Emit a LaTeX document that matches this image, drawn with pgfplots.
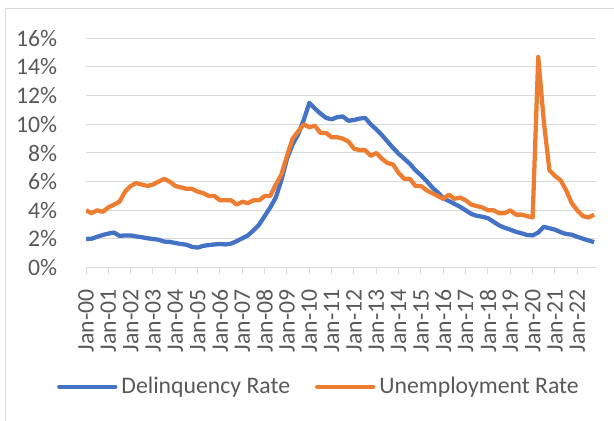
\documentclass[border=0pt]{standalone}
\usepackage{pgfplots}
\pgfplotsset{compat=1.18}
\usepackage{pgfplotstable}
\usepackage{fontspec}
\setmainfont{Carlito}
\definecolor{dblue}{HTML}{4472C4}
\definecolor{dorange}{HTML}{ED7D31}
\definecolor{txtgray}{HTML}{595959}
\definecolor{gridgray}{HTML}{D9D9D9}

\pgfplotstableread{
q D U
0 2.00 4.0
1 2.02 3.8
2 2.15 4.0
3 2.28 3.9
4 2.38 4.2
5 2.45 4.4
6 2.22 4.6
7 2.25 5.3
8 2.25 5.7
9 2.18 5.9
10 2.12 5.8
11 2.05 5.7
12 2.00 5.8
13 1.95 6.0
14 1.82 6.2
15 1.80 6.0
16 1.72 5.7
17 1.65 5.6
18 1.60 5.5
19 1.45 5.5
20 1.40 5.3
21 1.52 5.2
22 1.58 5.0
23 1.62 5.0
24 1.65 4.7
25 1.62 4.7
26 1.68 4.7
27 1.85 4.4
28 2.05 4.6
29 2.25 4.5
30 2.60 4.7
31 3.00 4.7
32 3.60 5.0
33 4.20 5.0
34 4.90 5.8
35 6.10 6.5
36 7.60 7.8
37 8.60 9.0
38 9.30 9.5
39 10.30 10.0
40 11.50 9.8
41 11.10 9.9
42 10.75 9.4
43 10.45 9.4
44 10.35 9.1
45 10.50 9.1
46 10.55 9.0
47 10.25 8.8
48 10.30 8.3
49 10.40 8.2
50 10.45 8.2
51 10.00 7.8
52 9.65 8.0
53 9.25 7.6
54 8.80 7.3
55 8.35 7.2
56 7.95 6.6
57 7.60 6.2
58 7.25 6.2
59 6.80 5.7
60 6.45 5.7
61 6.05 5.4
62 5.60 5.2
63 5.25 5.0
64 4.85 4.8
65 4.65 5.1
66 4.45 4.8
67 4.25 4.9
68 4.00 4.7
69 3.75 4.4
70 3.62 4.3
71 3.55 4.2
72 3.45 4.0
73 3.20 4.0
74 2.95 3.8
75 2.78 3.8
76 2.65 4.0
77 2.50 3.7
78 2.40 3.7
79 2.28 3.6
80 2.25 3.5
81 2.45 14.7
82 2.85 10.2
83 2.75 6.8
84 2.65 6.4
85 2.48 6.1
86 2.35 5.4
87 2.30 4.5
88 2.15 4.0
89 2.02 3.6
90 1.90 3.5
91 1.78 3.7
}\datatable

\begin{document}
\begin{tikzpicture}
\path[use as bounding box] (0,0) rectangle (460.5pt,315.75pt);
\draw[gridgray, line width=0.75pt] (3.75pt,0pt) -- (3.75pt,309pt) -- (460.5pt,309pt);
\begin{axis}[
  at={(64.5pt,115pt)}, anchor=south west,
  scale only axis, width=382.3pt, height=172pt,
  xmin=0, xmax=91.3, ymin=0, ymax=16,
  axis lines*=left,
  x axis line style={gridgray, line width=0.75pt},
  y axis line style={draw=none},
  ymajorgrids, grid style={gridgray, line width=0.75pt},
  xtick={0,4,...,88},
  xticklabels={Jan-00,Jan-01,Jan-02,Jan-03,Jan-04,Jan-05,Jan-06,Jan-07,Jan-08,Jan-09,Jan-10,Jan-11,Jan-12,Jan-13,Jan-14,Jan-15,Jan-16,Jan-17,Jan-18,Jan-19,Jan-20,Jan-21,Jan-22},
  ytick={0,2,...,16},
  yticklabels={0\%,2\%,4\%,6\%,8\%,10\%,12\%,14\%,16\%},
  tick align=outside,
  major tick length=4.5pt,
  xtick style={gridgray, line width=0.75pt},
  ytick style={draw=none},
  tick label style={font=\fontsize{17.8pt}{21pt}\selectfont, text=txtgray},
  xticklabel style={rotate=90, anchor=east, inner sep=0pt},
  xticklabel shift=11.7pt,
  yticklabel style={anchor=east, inner sep=0pt},
  yticklabel shift=17pt,
  legend columns=2,
  legend style={at={(0.455,-0.519)}, anchor=center, draw=none, fill=none,
    font=\fontsize{17.8pt}{21pt}\selectfont, text=txtgray, inner sep=0pt,
    nodes={inner sep=0pt},
    /tikz/every even column/.style={column sep=18.75pt},
    /tikz/every odd column/.style={column sep=3pt}},
  legend image code/.code={\draw[#1, line cap=round] (0pt,0pt) -- (42pt,0pt);},
]
\addplot[dblue, line width=3.2pt, line join=round] table[x=q, y=D] {\datatable};
\addlegendentry{Delinquency Rate}
\addplot[dorange, line width=3.2pt, line join=round] table[x=q, y=U] {\datatable};
\addlegendentry{Unemployment Rate}
\end{axis}
\end{tikzpicture}
\end{document}
